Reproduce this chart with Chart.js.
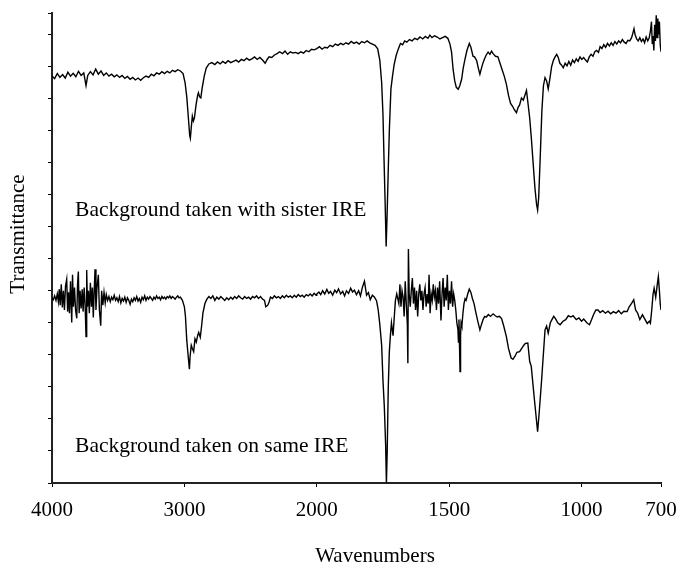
<!DOCTYPE html>
<html>
<head>
<meta charset="utf-8">
<script src="https://cdn.jsdelivr.net/npm/chart.js@4.4.0/dist/chart.umd.min.js"></script>
<style>
  html, body { margin: 0; padding: 0; background: #fff; }
  canvas { display: block; }
</style>
</head>
<body>
<canvas id="myChart" width="679" height="565"></canvas>
<script>
// [wavenumber cm-1, transmittance (offset units)]
const sisterIRE = [
  [4000,12.70],[3980,12.62],[3960,12.78],[3940,12.66],[3920,12.75],[3900,12.64],[3880,12.82],[3860,12.70],
  [3840,12.79],[3820,12.68],[3800,12.85],[3780,12.72],[3760,12.80],[3743,12.40],[3730,12.72],[3710,12.84],
  [3690,12.74],[3670,12.92],[3650,12.76],[3630,12.86],[3610,12.72],[3590,12.80],[3570,12.70],[3550,12.76],
  [3530,12.68],[3510,12.74],[3490,12.66],[3470,12.72],[3450,12.63],[3430,12.69],[3410,12.60],[3390,12.66],
  [3370,12.58],[3350,12.64],[3330,12.57],[3310,12.65],[3290,12.70],[3270,12.66],[3250,12.76],[3230,12.71],
  [3210,12.80],[3190,12.76],[3170,12.84],[3150,12.78],[3130,12.85],[3110,12.80],[3090,12.88],[3070,12.84],
  [3050,12.90],[3030,12.86],[3010,12.78],[2995,12.50],[2982,12.05],[2970,11.40],[2960,10.85],[2955,10.76],
  [2948,11.10],[2940,11.45],[2932,11.30],[2924,11.40],[2912,11.80],[2900,12.10],[2894,12.18],[2885,12.05],
  [2876,12.02],[2865,12.35],[2850,12.70],[2835,12.95],[2815,13.08],[2793,13.12],[2770,13.06],[2750,13.14],
  [2730,13.08],[2710,13.16],[2690,13.10],[2670,13.18],[2650,13.12],[2630,13.16],[2610,13.20],[2590,13.14],
  [2570,13.22],[2550,13.18],[2530,13.26],[2510,13.20],[2490,13.24],[2470,13.30],[2450,13.22],[2430,13.28],
  [2410,13.20],[2390,13.10],[2375,13.22],[2360,13.30],[2340,13.28],[2320,13.36],[2300,13.40],[2280,13.46],
  [2260,13.40],[2240,13.48],[2220,13.38],[2200,13.46],[2180,13.42],[2160,13.44],[2140,13.40],[2120,13.46],
  [2100,13.42],[2080,13.50],[2060,13.46],[2040,13.54],[2020,13.52],[2000,13.56],[1990,13.62],[1980,13.54],
  [1970,13.60],[1960,13.58],[1950,13.66],[1940,13.62],[1930,13.70],[1920,13.66],[1910,13.72],[1900,13.68],
  [1890,13.74],[1880,13.70],[1870,13.78],[1860,13.72],[1850,13.76],[1840,13.70],[1830,13.78],[1820,13.74],
  [1810,13.80],[1800,13.74],[1790,13.70],[1780,13.66],[1770,13.55],[1762,13.20],[1755,12.50],[1750,11.50],
  [1746,10.10],[1742,8.80],[1738,7.38],[1734,8.50],[1730,9.80],[1726,11.00],[1720,12.30],[1714,12.70],
  [1708,13.05],[1700,13.35],[1692,13.55],[1684,13.72],[1676,13.68],[1668,13.80],[1660,13.76],[1650,13.84],
  [1640,13.80],[1630,13.88],[1620,13.84],[1610,13.92],[1600,13.86],[1590,13.94],[1580,13.88],[1573,13.98],
  [1565,13.90],[1555,13.96],[1545,13.92],[1535,13.86],[1525,13.90],[1515,13.94],[1505,13.88],[1497,13.70],
  [1491,13.45],[1485,12.90],[1479,12.55],[1473,12.35],[1466,12.29],[1460,12.40],[1453,12.60],[1447,12.95],
  [1441,13.20],[1433,13.50],[1424,13.72],[1418,13.60],[1410,13.32],[1404,13.30],[1396,13.18],[1390,12.95],
  [1384,12.76],[1378,12.95],[1372,13.12],[1366,13.25],[1360,13.36],[1353,13.45],[1346,13.38],[1340,13.48],
  [1334,13.40],[1325,13.32],[1316,13.30],[1308,13.10],[1300,12.90],[1292,12.70],[1284,12.45],[1276,12.10],
  [1268,11.85],[1260,11.75],[1254,11.65],[1246,11.56],[1240,11.72],[1234,11.80],[1227,12.02],[1220,11.95],
  [1214,12.10],[1208,12.25],[1203,11.90],[1196,11.40],[1190,10.80],[1183,10.00],[1176,9.20],[1170,8.70],
  [1166,8.52],[1162,8.90],[1156,10.20],[1150,11.60],[1144,12.40],[1138,12.65],[1132,12.55],[1126,12.30],
  [1120,12.60],[1113,13.00],[1106,13.20],[1100,13.30],[1094,13.38],[1088,13.28],[1082,13.10],[1076,13.05],
  [1069,12.96],[1062,13.10],[1055,13.02],[1048,13.16],[1041,13.04],[1034,13.20],[1027,13.12],[1020,13.24],
  [1013,13.16],[1006,13.30],[999,13.22],[992,13.28],[985,13.20],[978,13.14],[971,13.30],[964,13.38],
  [957,13.32],[950,13.46],[943,13.50],[936,13.44],[930,13.62],[923,13.56],[916,13.68],[909,13.60],
  [902,13.72],[895,13.64],[888,13.74],[881,13.66],[874,13.78],[867,13.70],[860,13.80],[853,13.74],
  [846,13.84],[839,13.76],[832,13.72],[825,13.82],[818,13.80],[811,13.90],[806,14.05],[802,14.18],
  [798,14.00],[792,13.86],[786,13.80],[780,13.90],[774,13.78],[768,13.86],[762,13.74],[756,13.92],
  [750,13.80],[745,13.88],[740,14.10],[736,14.40],[733,13.70],[730,13.95],[727,13.50],[724,14.30],
  [721,13.80],[718,14.60],[715,13.90],[712,14.50],[709,14.00],[706,14.40],[703,13.70],[700,13.46]
];

const sameIRE = [
  [4000,5.78],[3990,5.72],[3980,5.84],[3970,5.70],[3960,5.90],[3952,5.66],[3945,6.05],[3938,5.55],
  [3930,6.20],[3922,5.48],[3914,6.00],[3906,5.40],[3898,6.15],[3889,6.36],[3882,5.35],[3875,5.95],
  [3868,5.30],[3860,6.30],[3851,5.01],[3845,6.50],[3838,5.50],[3830,6.10],[3822,5.40],[3813,5.14],
  [3807,6.20],[3801,6.60],[3795,5.30],[3788,6.00],[3780,5.45],[3772,6.05],[3765,5.35],[3757,6.10],
  [3750,5.60],[3743,4.57],[3738,6.65],[3732,5.50],[3725,6.00],[3718,5.30],[3710,6.25],[3702,5.50],
  [3695,6.10],[3688,5.17],[3682,5.90],[3675,6.67],[3668,5.40],[3660,6.10],[3650,6.50],[3642,5.40],
  [3632,4.91],[3625,6.00],[3616,5.55],[3607,5.95],[3598,5.62],[3590,5.88],[3580,5.70],[3570,5.82],
  [3560,5.66],[3550,5.80],[3540,5.72],[3530,5.86],[3520,5.70],[3510,5.78],[3500,5.66],[3490,5.82],
  [3480,5.62],[3470,5.76],[3460,5.68],[3450,5.80],[3440,5.64],[3430,5.78],[3420,5.70],[3410,5.58],
  [3400,5.74],[3390,5.66],[3380,5.78],[3370,5.70],[3360,5.82],[3350,5.68],[3340,5.76],[3330,5.64],
  [3320,5.80],[3310,5.72],[3300,5.84],[3290,5.70],[3280,5.80],[3270,5.74],[3260,5.82],[3250,5.76],
  [3240,5.70],[3230,5.80],[3220,5.74],[3210,5.84],[3200,5.76],[3190,5.80],[3180,5.72],[3170,5.82],
  [3160,5.76],[3150,5.80],[3140,5.74],[3130,5.82],[3120,5.78],[3110,5.84],[3100,5.76],[3090,5.82],
  [3080,5.78],[3070,5.74],[3060,5.80],[3050,5.84],[3040,5.78],[3030,5.80],[3015,5.70],[3000,5.50],
  [2992,5.20],[2982,4.45],[2970,3.90],[2962,3.55],[2957,3.95],[2948,4.30],[2940,4.20],[2930,4.10],
  [2920,4.50],[2910,4.40],[2900,4.60],[2892,4.70],[2880,4.55],[2870,4.90],[2860,5.30],[2845,5.60],
  [2830,5.74],[2815,5.82],[2800,5.76],[2785,5.84],[2770,5.70],[2755,5.80],[2740,5.74],[2725,5.82],
  [2710,5.76],[2695,5.70],[2680,5.78],[2665,5.72],[2650,5.80],[2635,5.74],[2620,5.82],[2605,5.76],
  [2590,5.84],[2575,5.78],[2560,5.74],[2545,5.82],[2530,5.76],[2515,5.80],[2500,5.74],[2485,5.82],
  [2470,5.78],[2455,5.84],[2440,5.76],[2425,5.82],[2410,5.74],[2395,5.70],[2385,5.50],[2370,5.55],
  [2360,5.65],[2350,5.80],[2335,5.76],[2320,5.84],[2305,5.78],[2290,5.82],[2275,5.76],[2260,5.84],
  [2245,5.78],[2230,5.86],[2215,5.80],[2200,5.84],[2185,5.78],[2170,5.86],[2155,5.80],[2140,5.88],
  [2125,5.82],[2110,5.86],[2095,5.80],[2080,5.88],[2065,5.84],[2050,5.90],[2035,5.84],[2020,5.92],
  [2005,5.86],[2000,5.90],[1992,5.96],[1985,5.88],[1978,6.00],[1970,5.90],[1962,6.04],[1955,5.92],
  [1948,5.98],[1940,5.86],[1932,6.02],[1925,5.94],[1918,6.06],[1910,5.90],[1902,5.98],[1895,5.84],
  [1888,6.00],[1880,5.92],[1872,6.08],[1865,5.96],[1858,6.02],[1850,5.88],[1842,6.00],[1835,5.84],
  [1828,6.10],[1820,6.30],[1812,5.86],[1805,5.94],[1798,5.72],[1790,5.86],[1782,5.80],[1774,5.68],
  [1768,5.40],[1762,4.95],[1755,4.30],[1750,3.20],[1745,2.40],[1740,1.20],[1737,0.00],[1734,1.00],
  [1730,3.00],[1726,4.10],[1722,4.60],[1718,5.00],[1715,4.80],[1712,4.60],[1708,5.10],[1703,5.70],
  [1698,5.90],[1690,5.60],[1686,6.20],[1682,5.50],[1678,6.00],[1674,5.80],[1670,5.20],[1666,6.30],
  [1662,5.60],[1658,4.97],[1656,3.74],[1654,7.30],[1651,5.90],[1647,5.50],[1643,6.00],[1639,6.40],
  [1635,5.60],[1631,6.10],[1627,5.40],[1623,6.00],[1619,5.20],[1615,5.90],[1611,6.20],[1607,5.70],
  [1603,6.00],[1599,5.40],[1595,5.90],[1591,6.10],[1587,5.50],[1583,5.90],[1579,5.60],[1576,6.50],
  [1572,5.30],[1568,5.90],[1564,5.70],[1560,6.20],[1556,5.80],[1552,6.00],[1548,5.40],[1544,6.10],
  [1540,5.60],[1536,6.30],[1531,5.07],[1527,5.90],[1523,6.40],[1519,5.50],[1515,6.10],[1511,5.70],
  [1507,6.50],[1503,5.40],[1499,6.00],[1495,5.60],[1491,6.30],[1487,5.50],[1483,5.90],[1479,5.70],
  [1475,5.40],[1471,5.00],[1467,4.80],[1465,4.40],[1463,5.10],[1461,4.30],[1459,3.48],[1457,4.60],
  [1455,5.00],[1452,4.90],[1448,5.30],[1444,5.60],[1440,5.75],[1436,5.70],[1430,5.90],[1424,6.05],
  [1418,5.95],[1412,5.75],[1406,5.60],[1400,5.35],[1392,5.05],[1384,4.78],[1378,4.95],[1372,5.10],
  [1366,5.20],[1360,5.18],[1352,5.26],[1344,5.20],[1334,5.28],[1326,5.22],[1318,5.18],[1310,5.20],
  [1302,5.13],[1294,4.90],[1284,4.57],[1276,4.20],[1266,3.90],[1259,3.86],[1252,3.95],[1244,4.08],
  [1234,4.10],[1226,4.20],[1218,4.30],[1212,4.36],[1203,4.37],[1196,3.80],[1190,3.64],[1178,2.60],
  [1166,1.60],[1160,2.20],[1151,3.20],[1138,4.78],[1132,4.90],[1126,4.68],[1118,5.00],[1112,5.10],
  [1105,5.20],[1098,5.12],[1090,5.00],[1081,4.94],[1070,5.05],[1060,5.10],[1050,5.22],[1040,5.18],
  [1032,5.22],[1020,5.10],[1010,5.15],[1000,5.05],[992,5.12],[980,5.00],[970,4.94],[962,5.10],
  [955,5.25],[946,5.40],[938,5.40],[930,5.32],[920,5.38],[910,5.30],[900,5.36],[890,5.28],
  [880,5.35],[870,5.30],[860,5.38],[850,5.28],[840,5.36],[828,5.35],[820,5.50],[810,5.62],
  [803,5.72],[796,5.40],[788,5.30],[780,5.10],[770,5.25],[760,5.10],[752,4.98],[744,5.05],
  [740,4.99],[735,5.40],[730,5.90],[726,6.08],[720,5.80],[714,6.20],[710,6.44],[706,6.00],
  [703,5.60],[700,5.40]
];

const tickWn = [4000, 3000, 2000, 1500, 1000, 700];
const traceNames = ['Background taken with sister IRE', 'Background taken on same IRE'];
const noteWn = 3826;
const noteT = [8.52, 1.14];
const xTitle = 'Wavenumbers';
const yTitle = 'Transmittance';

// axis is stretched 2x below 2000 cm-1, like the spectrometer printout
function toAxis(wn) {
  return wn >= 2000 ? (4000 - wn) / 1000 : 2 + (2000 - wn) / 500;
}
function fromAxis(u) {
  return u <= 2 ? 4000 - u * 1000 : 2000 - (u - 2) * 500;
}

const serif = "'Liberation Serif', 'Times New Roman', serif";
Chart.defaults.font.family = serif;
Chart.defaults.color = '#000';

// trace captions and the two axis titles (they sit off-centre in the original)
const traceNotes = {
  id: 'traceNotes',
  afterDatasetsDraw(chart) {
    const { ctx, scales: { x, y } } = chart;
    ctx.save();
    ctx.fillStyle = '#000';
    ctx.textBaseline = 'middle';
    ctx.font = '21.5px ' + serif;
    traceNames.forEach((name, i) => {
      ctx.fillText(name, x.getPixelForValue(toAxis(noteWn)), y.getPixelForValue(noteT[i]));
    });
    ctx.font = '21px ' + serif;
    ctx.textAlign = 'center';
    ctx.fillText(xTitle, 375, 556);
    ctx.translate(18, 234);
    ctx.rotate(-Math.PI / 2);
    ctx.fillText(yTitle, 0, 0);
    ctx.restore();
  }
};

const toPoints = arr => arr.map(([w, t]) => ({ x: toAxis(w), y: t }));

const data = {
  datasets: [{
    label: traceNames[0],
    data: toPoints(sisterIRE),
    borderColor: '#000',
    borderWidth: 1.4,
    pointRadius: 0
  }, {
    label: traceNames[1],
    data: toPoints(sameIRE),
    borderColor: '#000',
    borderWidth: 1.4,
    pointRadius: 0
  }]
};

const config = {
  type: 'line',
  data: data,
  options: {
    responsive: false,
    animation: false,
    layout: { padding: { top: 13, right: 18, left: 0, bottom: 0 } },
    plugins: {
      legend: { display: false },
      tooltip: { enabled: false }
    },
    scales: {
      x: {
        type: 'linear',
        min: 0,
        max: toAxis(700),
        afterBuildTicks: scale => {
          scale.ticks = tickWn.map(w => ({ value: toAxis(w) }));
        },
        afterFit: scale => {
          scale.height = 82;
          scale.paddingLeft = 0;
          scale.paddingRight = 0;
        },
        ticks: {
          autoSkip: false,
          maxRotation: 0,
          padding: 11,
          font: { size: 21 },
          callback: v => String(Math.round(fromAxis(v)))
        },
        grid: { drawOnChartArea: false, drawTicks: true, tickLength: 4, color: '#000' },
        border: { color: '#222', width: 2 }
      },
      y: {
        min: 0,
        max: 14.67,
        afterFit: scale => { scale.width = 52; },
        ticks: { display: false, stepSize: 1 },
        grid: { drawOnChartArea: false, drawTicks: true, tickLength: 4, color: '#000' },
        border: { color: '#222', width: 2 }
      }
    }
  },
  plugins: [traceNotes]
};

const ctx = document.getElementById('myChart').getContext('2d');
new Chart(ctx, config);
</script>
</body>
</html>
